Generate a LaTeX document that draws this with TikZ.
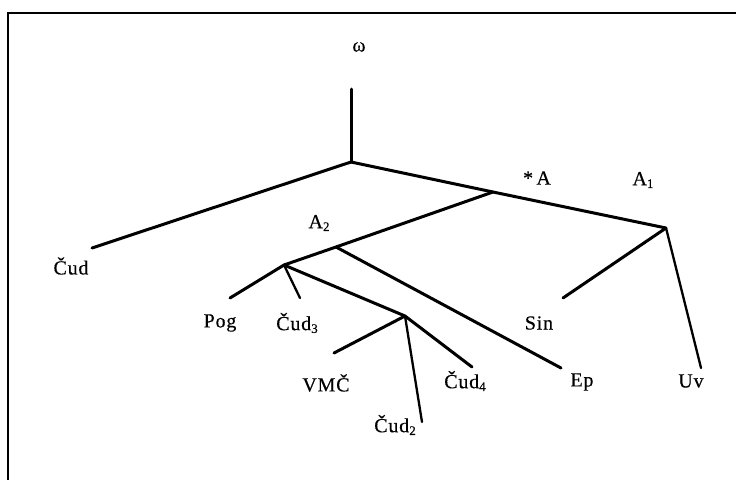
\documentclass[tikz,border=0pt]{standalone}
\usepackage{fontspec}
\setmainfont{Liberation Serif}
\newfontfamily\labelfont[LetterSpace=4,FakeBold=0.4]{Liberation Serif}
% small lowered index digit
\newcommand{\lowidx}[1]{\raisebox{-0.3ex}{\fontsize{13}{13}\selectfont #1}}
\begin{document}
\begin{tikzpicture}[x=1pt,y=-1pt,
  branch/.style={line width=3pt, line cap=round},
  twig/.style={line width=2.3pt, line cap=round},
  lbl/.style={font=\labelfont\fontsize{20}{20}\selectfont, inner sep=0pt}]
\useasboundingbox (0,0) rectangle (736,480);
% frame edges
\draw[line width=2.2pt] (8,480) -- (8,13) -- (736,13);

% branch points and free ends
\coordinate (top) at (351,89);
\coordinate (root) at (351,162);
\coordinate (cudE) at (92,248);
\coordinate (aJ) at (493,192);
\coordinate (a1) at (666,228);
\coordinate (p) at (284,265);
\coordinate (epJ) at (336,247);
\coordinate (epE) at (561,368);
\coordinate (pogE) at (230,298);
\coordinate (cud3E) at (300,298);
\coordinate (v) at (405,316);
\coordinate (vmcE) at (334,353);
\coordinate (cud4E) at (472,367);
\coordinate (cud2E) at (422,422);
\coordinate (sinE) at (563,298);
\coordinate (uvE) at (701,368);

% labels
\node[lbl] (omega) at (359,47) {ω};
\node[lbl] (astA) at (537,178) {*\,A};
\node[lbl] (lA1) at (643,180) {A\lowidx{1}};
\node[lbl] (lA2) at (319,223) {A\lowidx{2}};
\node[lbl] (cud) at (71,266) {Čud};
\node[lbl] (pog) at (220,323) {Pog};
\node[lbl] (cud3) at (297,323) {Čud\lowidx{3}};
\node[lbl] (vmc) at (326,383) {VMČ};
\node[lbl] (cud4) at (465,381) {Čud\lowidx{4}};
\node[lbl] (cud2) at (395,425) {Čud\lowidx{2}};
\node[lbl] (ep) at (582,382) {Ep};
\node[lbl] (sin) at (539,323) {Sin};
\node[lbl] (uv) at (691,381) {Uv};

% tree
\draw[branch] (top) -- (root);
\draw[branch] (root) -- (cudE);
\draw[branch] (root) -- (aJ) -- (a1);
\draw[branch] (aJ) -- (epJ) -- (p);
\draw[branch] (epJ) -- (epE);
\draw[branch] (p) -- (pogE);
\draw[twig] (p) -- (cud3E);
\draw[branch] (p) -- (v);
\draw[branch] (v) -- (vmcE);
\draw[branch] (v) -- (cud4E);
\draw[twig] (v) -- (cud2E);
\draw[branch] (a1) -- (sinE);
\draw[twig] (a1) -- (uvE);
\end{tikzpicture}
\end{document}
